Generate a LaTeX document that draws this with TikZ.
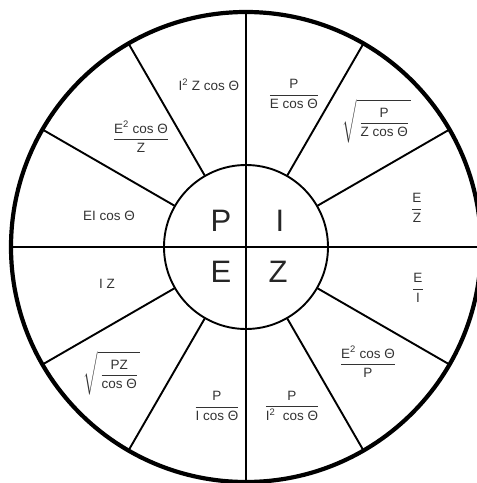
\documentclass[tikz,border=0pt]{standalone}
\usepackage{amsmath}
\usepackage{fontspec}
\setmainfont{Liberation Sans}

\newcommand{\wfrac}[2]{$\dfrac{\text{#1}}{\text{#2}}$}
\newcommand{\wroot}[2]{$\sqrt{\rule[-15pt]{0pt}{40pt}\,\dfrac{\text{#1}}{\text{#2}}\,}$}

\begin{document}
\begin{tikzpicture}[
	x=1pt, y=1pt,
	rim/.style={line width=4.2pt},
	spoke/.style={line width=1.9pt},
	formula/.style={
		text=black!80,
		font=\fontsize{13.5}{16}\selectfont,
		inner sep=1pt
	},
	quantity/.style={
		text=black!85,
		font=\fontsize{31}{34}\selectfont,
		inner sep=0pt
	},
]

\pgfmathsetmacro{\rout}{235}
\pgfmathsetmacro{\rin}{82}

\useasboundingbox (-246,-236) rectangle (231,247);

% wheel, axes and hub
\draw[rim] (0,0) circle (\rout pt);
\foreach \a in {30,60,120,150,210,240,300,330} {
	\draw[spoke] (\a:\rin pt) -- (\a:\rout pt);
}
\draw[spoke] (-\rout,0) -- (\rout,0);
\draw[spoke] (0,-\rout) -- (0,\rout);
\draw[spoke] (0,0) circle (\rin pt);

% quantities in the hub
\node[quantity] (qP) at (-25,26) {P};
\node[quantity] (qI) at (34,26) {I};
\node[quantity] (qE) at (-25,-25) {E};
\node[quantity] (qZ) at (32,-25) {Z};

% power
\node[formula] (pEI)  at (-137,31)  {EI cos Θ};
\node[formula] (pEZ)  at (-105,110) {\wfrac{E\textsuperscript{2} cos Θ}{Z}};
\node[formula] (pIZ)  at (-37,162)  {I\textsuperscript{2} Z cos Θ};

% current
\node[formula] (iPE)  at (48,153)   {\wfrac{P}{E cos Θ}};
\node[formula] (iPZ)  at (131,126)  {\wroot{P}{Z cos Θ}};
\node[formula] (iEZ)  at (171,39)   {\wfrac{E}{Z}};

% impedance
\node[formula] (zEI)  at (172,-41)  {\wfrac{E}{I}};
\node[formula] (zEP)  at (122,-115) {\wfrac{E\textsuperscript{2} cos Θ}{P}};
\node[formula] (zPI)  at (46,-159)  {\wfrac{P}{I\textsuperscript{2}\ \ cos Θ}};

% voltage
\node[formula] (eIZ)  at (-139,-37) {I Z};
\node[formula] (ePZ)  at (-134,-126) {\wroot{PZ}{cos Θ}};
\node[formula] (ePI)  at (-29,-159) {\wfrac{P}{I cos Θ}};

\end{tikzpicture}
\end{document}
